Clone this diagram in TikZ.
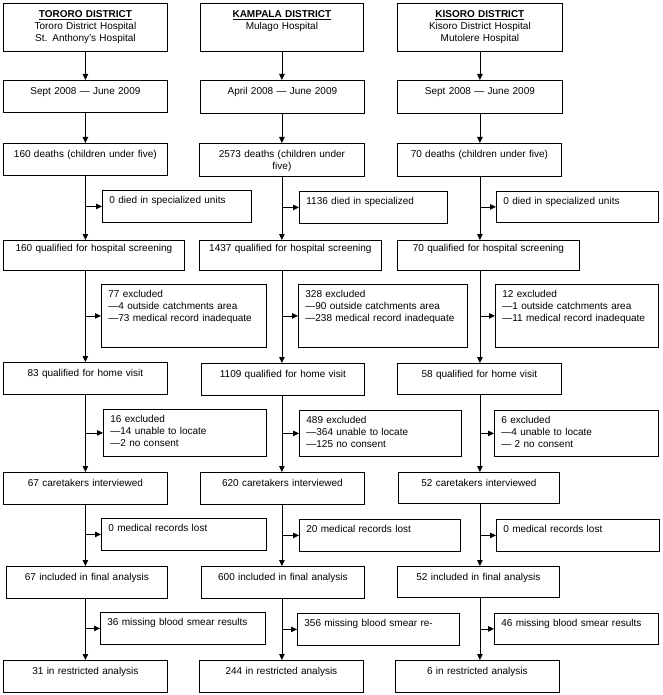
\documentclass[tikz,border=0pt]{standalone}
\usepackage{fontspec}
\setmainfont{Liberation Sans}
\usetikzlibrary{arrows.meta}

\tikzset{
    mid/.style 2 args={draw, anchor=north west, inner sep=0pt, align=center,
        text width=#1pt, text height=14.5pt, text depth={#2pt-14.5pt}},
    side/.style 2 args={draw, anchor=north west, inner xsep=7pt, inner ysep=0pt, align=left,
        text width={#1pt-14pt}, text height=13.5pt, text depth={#2pt-13.5pt}},
    qual/.style={text height=11.5pt, text depth=18.5pt},
    arr/.style={-{Triangle[length=6pt,width=5.5pt]}}
}

\begin{document}
\begin{tikzpicture}[x=1pt, y=-1pt, line width=0.8pt, font=\fontsize{10}{12}\selectfont]
    \useasboundingbox (0,0) rectangle (662,695);

    % Tororo
    \node[mid={164}{48}] (toH) at (3,3) {\underline{\textbf{TORORO DISTRICT}}\\Tororo District Hospital\\St. Anthony's Hospital};
    \node[mid={164}{32}] (toS) at (3,80) {Sept 2008 — June 2009};
    \node[mid={164}{32}] (toD) at (3,143) {160 deaths (children under five)};
    \node[side={149}{32}] (toX1) at (102,190) {0 died in specialized units};
    \node[mid={181}{30}, qual] (toQ) at (3,240) {160 qualified for hospital screening};
    \node[side={165}{63}] (toX2) at (101,284) {77 excluded\\—4 outside catchments area\\—73 medical record inadequate};
    \node[mid={164}{32}] (toV) at (3,362) {83 qualified for home visit};
    \node[side={163}{47}] (toX3) at (103,409) {16 excluded\\—14 unable to locate\\—2 no consent};
    \node[mid={164}{32}] (toC) at (3,472) {67 caretakers interviewed};
    \node[side={165}{32}] (toX4) at (101,518) {0 medical records lost};
    \node[mid={161}{32}] (toF) at (6,566) {67 included in final analysis};
    \node[side={165}{32}] (toX5) at (100,612) {36 missing blood smear results};
    \node[mid={164}{32}] (toR) at (3,660) {31 in restricted analysis};

    % Kampala
    \node[mid={163}{48}] (kaH) at (200,3) {\underline{\textbf{KAMPALA DISTRICT}}\\Mulago Hospital};
    \node[mid={164}{33}] (kaS) at (200,80) {April 2008 — June 2009};
    \node[mid={165}{33}] (kaD) at (199,143) {2573 deaths (children under\\five)};
    \node[side={148}{32}] (kaX1) at (299,191) {1136 died in specialized};
    \node[mid={182}{30}, qual] (kaQ) at (199,240) {1437 qualified for hospital screening};
    \node[side={169}{63}] (kaX2) at (298,284) {328 excluded\\—90 outside catchments area\\—238 medical record inadequate};
    \node[mid={163}{32}] (kaV) at (201,363) {1109 qualified for home visit};
    \node[side={162}{46}] (kaX3) at (299,410) {489 excluded\\—364 unable to locate\\—125 no consent};
    \node[mid={164}{32}] (kaC) at (200,472) {620 caretakers interviewed};
    \node[side={161}{32}] (kaX4) at (299,519) {20 medical records lost};
    \node[mid={163}{32}] (kaF) at (201,566) {600 included in final analysis};
    \node[side={162}{32}] (kaX5) at (297,613) {356 missing blood smear re-};
    \node[mid={164}{32}] (kaR) at (199,660) {244 in restricted analysis};

    % Kisoro
    \node[mid={165}{48}] (kiH) at (397,3) {\underline{\textbf{KISORO DISTRICT}}\\Kisoro District Hospital\\Mutolere Hospital};
    \node[mid={165}{33}] (kiS) at (397,80) {Sept 2008 — June 2009};
    \node[mid={164}{33}] (kiD) at (397,143) {70 deaths (children under five)};
    \node[side={162}{31}] (kiX1) at (496,191) {0 died in specialized units};
    \node[mid={182}{30}, qual] (kiQ) at (397,240) {70 qualified for hospital screening};
    \node[side={163}{63}] (kiX2) at (495,284) {12 excluded\\—1 outside catchments area\\—11 medical record inadequate};
    \node[mid={164}{31}] (kiV) at (397,363) {58 qualified for home visit};
    \node[side={164}{46}] (kiX3) at (494,410) {6 excluded\\—4 unable to locate\\— 2 no consent};
    \node[mid={161}{31}] (kiC) at (398,472) {52 caretakers interviewed};
    \node[side={163}{32}] (kiX4) at (496,519) {0 medical records lost};
    \node[mid={162}{31}] (kiF) at (397,566) {52 included in final analysis};
    \node[side={164}{31}] (kiX5) at (494,613) {46 missing blood smear results};
    \node[mid={164}{32}] (kiR) at (395,660) {6 in restricted analysis};

    % flow down each column, side boxes off the spine
    \foreach \d in {to,ka,ki}{
        \foreach \a/\b in {H/S,S/D,D/Q,Q/V,V/C,C/F,F/R}
            \draw[arr] (\d\a.south -| \d H) -- (\d\b.north -| \d H);
        \foreach \n in {1,...,5}
            \draw[arr] (\d X\n.west -| \d H) -- (\d X\n.west);
    }
\end{tikzpicture}
\end{document}
